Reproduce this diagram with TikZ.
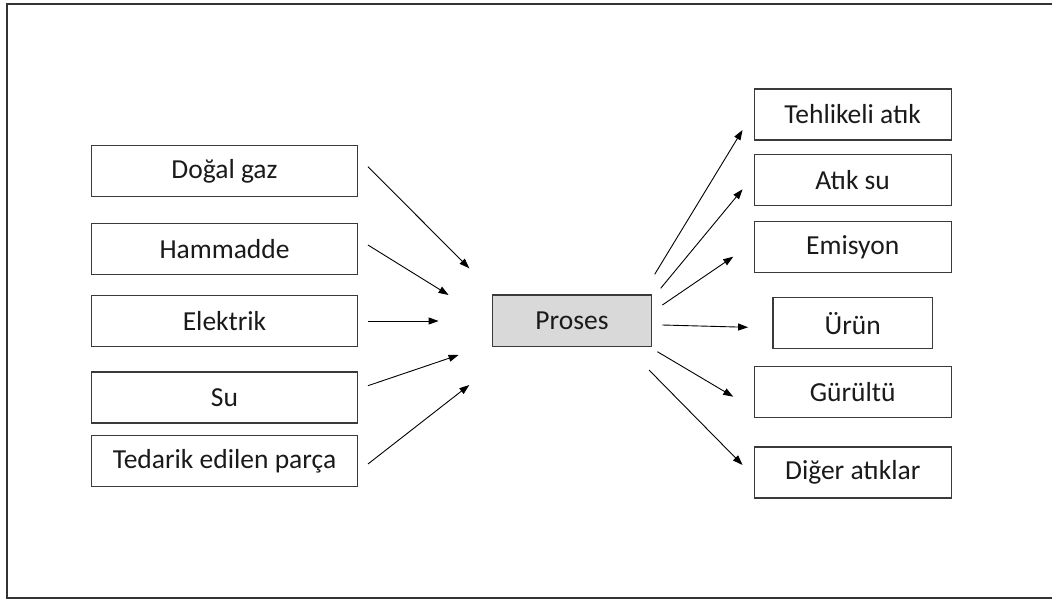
\documentclass[tikz,border=0pt]{standalone}
\usepackage{fontspec}
\setmainfont{Carlito}
\usetikzlibrary{arrows.meta}
\definecolor{txt}{HTML}{1A1A1A}
\definecolor{boxline}{HTML}{3A3A3A}
\definecolor{procfill}{HTML}{D9D9D9}
\begin{document}
\begin{tikzpicture}[x=1pt,y=-1pt,
  box/.style={draw=boxline,line width=1.3pt,fill=white,minimum height=51pt,inner sep=0pt,text=txt,font=\fontsize{27.5}{33}\selectfont},
  lbox/.style={box,minimum width=266pt},
  rbox/.style={box,minimum width=197pt},
  arr/.style={draw=black,line width=0.9pt,-{Triangle[length=10pt,width=7pt]}}]
\useasboundingbox (0,0) rectangle (1052,602);
\draw[line width=2pt,draw=black!80] (1052,4) -- (7,4) -- (7,598) -- (1052,598);
% inputs
\node[lbox] (dogal) at (224.5,171) {Doğal gaz};
\node[lbox] (ham) at (224.5,248.7) {Hammadde};
\node[lbox] (elek) at (224.5,320.7) {Elektrik};
\node[lbox] (su) at (224.5,397.5) {Su};
\node[lbox] (ted) at (224.5,460.9) {Tedarik edilen parça};
% process
\node[box,fill=procfill,minimum width=159.5pt,minimum height=51.7pt] (proses) at (572,320.8) {Proses};
% outputs
\node[rbox] (teh) at (852.7,114.5) {Tehlikeli atık};
\node[rbox] (atik) at (852.7,180) {Atık su};
\node[rbox] (emis) at (852.7,247.2) {Emisyon};
\node[box,minimum width=159.3pt] (urun) at (852.7,323.2) {Ürün};
\node[rbox] (gur) at (852.7,392.2) {Gürültü};
\node[rbox] (diger) at (852.7,472.5) {Diğer atıklar};
% input arrows
\draw[arr] ([shift={(9.8,-4.3)}]dogal.east) -- ([shift={(-22.3,-52.5)}]proses.west);
\draw[arr] ([shift={(9.8,-3.7)}]ham.east) -- ([shift={(-43,-25.8)}]proses.west);
\draw[arr] ([shift={(9.8,0.3)}]elek.east) -- ([shift={(-53,0.2)}]proses.west);
\draw[arr] ([shift={(9.8,-11.8)}]su.east) -- ([shift={(-33,34.2)}]proses.west);
\draw[arr] ([shift={(9.8,3.1)}]ted.east) -- ([shift={(-22.3,64.2)}]proses.west);
% output arrows
\draw[arr] ([shift={(2.3,-46.5)}]proses.east) -- ([shift={(-11,15.5)}]teh.west);
\draw[arr] ([shift={(8.3,-32.5)}]proses.east) -- ([shift={(-11,9.3)}]atik.west);
\draw[arr] ([shift={(10,-15.8)}]proses.east) -- ([shift={(-20.3,9.5)}]emis.west);
\draw[arr] ([shift={(10,4.2)}]proses.east) -- ([shift={(-24.3,4.1)}]urun.west);
\draw[arr] ([shift={(5,30.9)}]proses.east) -- ([shift={(-20.3,4.5)}]gur.west);
\draw[arr] ([shift={(-3.4,49.2)}]proses.east) -- ([shift={(-11,-7.5)}]diger.west);
\end{tikzpicture}
\end{document}
